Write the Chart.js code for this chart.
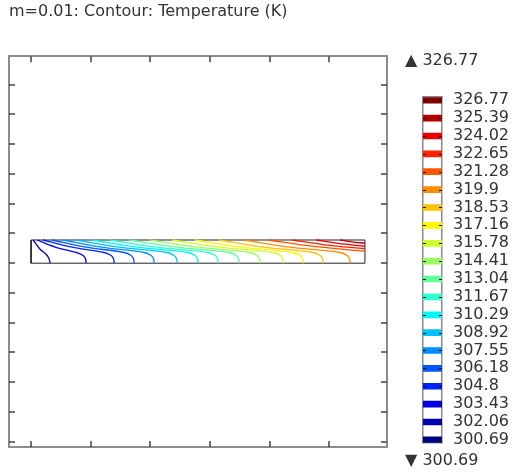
<!DOCTYPE html>
<html>
<head>
<meta charset="utf-8">
<title>m=0.01: Contour: Temperature (K)</title>
<script src="https://cdn.jsdelivr.net/npm/chart.js"></script>
<style>
  html, body { margin: 0; padding: 0; background: #fff; }
  #wrap { position: relative; width: 515px; height: 472px; }
  #plot { position: absolute; left: 0; top: 0; }
  #bar { position: absolute; left: 400px; top: 0; }
</style>
</head>
<body>
<div id="wrap">
  <canvas id="plot" width="400" height="472"></canvas>
  <canvas id="bar" width="115" height="472"></canvas>
</div>
<script>
// contour levels (K), low to high, and their legend labels
var levels = [300.69, 302.06, 303.43, 304.8, 306.18, 307.55, 308.92, 310.29, 311.67, 313.04,
              314.41, 315.78, 317.16, 318.53, 319.9, 321.28, 322.65, 324.02, 325.39, 326.77];
var levelLabels = ['300.69', '302.06', '303.43', '304.8', '306.18', '307.55', '308.92', '310.29', '311.67', '313.04',
                   '314.41', '315.78', '317.16', '318.53', '319.9', '321.28', '322.65', '324.02', '325.39', '326.77'];
var levelColors = ['#000080', '#0000b5', '#0000eb', '#0022ff', '#0057ff', '#008dff', '#00c2ff', '#00f8ff', '#2fffd0', '#65ff9a',
                   '#9aff65', '#d0ff2f', '#fff800', '#ffc200', '#ff8d00', '#ff5700', '#ff2200', '#eb0000', '#b50000', '#800000'];
var minLabel = '\u25B2 326.77';
var maxLabel = '\u25BC 300.69';

// contour lines, one per inner level (302.06 ... 325.39)
var contourX = [
  [0.034, 0.151, 0.252, 0.302, 0.319],
  [0.101, 0.395, 0.755, 0.873, 0.915, 0.923],
  [0.201, 0.662, 1.225, 1.343, 1.385, 1.393],
  [0.352, 0.896, 1.560, 1.678, 1.720, 1.728],
  [0.537, 1.149, 1.896, 2.014, 2.056, 2.064],
  [0.755, 1.442, 2.282, 2.400, 2.442, 2.450],
  [1.023, 1.748, 2.634, 2.752, 2.794, 2.802],
  [1.326, 2.066, 2.970, 3.088, 3.130, 3.138],
  [1.644, 2.399, 3.322, 3.440, 3.482, 3.490],
  [1.997, 2.752, 3.674, 3.792, 3.834, 3.842],
  [2.366, 3.128, 4.060, 4.178, 4.220, 4.228],
  [2.752, 3.492, 4.396, 4.514, 4.556, 4.564],
  [3.154, 3.864, 4.731, 4.849, 4.891, 4.899],
  [3.574, 4.299, 5.184, 5.302, 5.344, 5.352],
  [3.977, 4.707, 5.6],
  [4.379, 4.928, 5.6],
  [4.782, 5.150, 5.6],
  [5.185, 5.372, 5.6]
];
var contourY = [
  [0.39, 0.235, 0.151, 0.076, 0],
  [0.39, 0.275, 0.18, 0.13, 0.07, 0],
  [0.39, 0.275, 0.18, 0.13, 0.07, 0],
  [0.39, 0.275, 0.18, 0.13, 0.07, 0],
  [0.39, 0.275, 0.18, 0.13, 0.07, 0],
  [0.39, 0.275, 0.18, 0.13, 0.07, 0],
  [0.39, 0.275, 0.18, 0.13, 0.07, 0],
  [0.39, 0.275, 0.18, 0.13, 0.07, 0],
  [0.39, 0.275, 0.18, 0.13, 0.07, 0],
  [0.39, 0.275, 0.18, 0.13, 0.07, 0],
  [0.39, 0.275, 0.18, 0.13, 0.07, 0],
  [0.39, 0.275, 0.18, 0.13, 0.07, 0],
  [0.39, 0.275, 0.18, 0.13, 0.07, 0],
  [0.39, 0.275, 0.18, 0.13, 0.07, 0],
  [0.39, 0.286, 0.201],
  [0.39, 0.309, 0.243],
  [0.39, 0.332, 0.285],
  [0.39, 0.36, 0.336]
];

// the domain outline
var boxX = [0, 5.6, 5.6, 0, 0];
var boxY = [0, 0, 0.39, 0.39, 0];

// axis tick positions (no labels drawn)
var xTicks = [0, 1, 2, 3, 4, 5];
var yTicks = [-3, -2.5, -2, -1.5, -1, -0.5, 0, 0.5, 1, 1.5, 2, 2.5, 3];

Chart.defaults.font.family = 'DejaVu Sans';
Chart.defaults.color = '#333';

function pts(xs, ys) {
  return xs.map(function(x, j) { return {x: x, y: ys[j]}; });
}

// ticks pointing into the frame on all four sides
var innerTicks = {
  id: 'innerTicks',
  afterDraw: function(chart) {
    var ctx = chart.ctx, a = chart.chartArea;
    var sx = chart.scales.x, sy = chart.scales.y;
    ctx.save();
    ctx.strokeStyle = '#444';
    ctx.lineWidth = 1.5;
    ctx.beginPath();
    xTicks.forEach(function(v) {
      var px = Math.round(sx.getPixelForValue(v));
      ctx.moveTo(px, a.bottom); ctx.lineTo(px, a.bottom - 6);
      ctx.moveTo(px, a.top); ctx.lineTo(px, a.top + 6);
    });
    yTicks.forEach(function(v) {
      var py = Math.round(sy.getPixelForValue(v));
      ctx.moveTo(a.left, py); ctx.lineTo(a.left + 6, py);
      ctx.moveTo(a.right, py); ctx.lineTo(a.right - 6, py);
    });
    ctx.stroke();
    ctx.restore();
  }
};

var frameAxis = function(pos, min, max) {
  return {
    type: 'linear', position: pos, min: min, max: max,
    ticks: {display: false},
    grid: {display: false, drawTicks: false},
    border: {display: true, color: '#8c8c8c', width: 2}
  };
};

var datasets = [];
for (var i = 0; i < contourX.length; i++) {
  datasets.push({
    data: pts(contourX[i], contourY[i]),
    showLine: true,
    borderColor: levelColors[i + 1],
    borderWidth: 1.3,
    pointRadius: 0,
    tension: 0.35
  });
}
datasets.push({
  data: pts(boxX, boxY),
  showLine: true,
  borderColor: '#222',
  borderWidth: 1,
  pointRadius: 0,
  tension: 0
});

new Chart(document.getElementById('plot'), {
  type: 'scatter',
  data: {datasets: datasets},
  options: {
    responsive: false,
    animation: false,
    events: [],
    layout: {padding: {left: 9, right: 13, top: 0, bottom: 25}},
    plugins: {
      legend: {display: false},
      tooltip: {enabled: false},
      title: {
        display: true,
        text: 'm=0.01: Contour: Temperature (K)',
        align: 'start',
        color: '#333',
        font: {size: 16, weight: 'normal'},
        padding: {top: 2, bottom: 35}
      }
    },
    scales: {
      x: frameAxis('bottom', -0.37, 5.97),
      x2: frameAxis('top', -0.37, 5.97),
      y: frameAxis('left', -3.09, 3.48),
      y2: frameAxis('right', -3.09, 3.48)
    }
  },
  plugins: [innerTicks]
});

// colour legend
var barTicks = {
  id: 'barTicks',
  afterDatasetsDraw: function(chart) {
    var ctx = chart.ctx, a = chart.chartArea, sy = chart.scales.y;
    ctx.save();
    ctx.strokeStyle = '#111';
    ctx.lineWidth = 1;
    ctx.beginPath();
    levels.forEach(function(v) {
      var py = Math.round(sy.getPixelForValue(v)) + 0.5;
      ctx.moveTo(a.left, py); ctx.lineTo(a.left + 3, py);
      ctx.moveTo(a.right - 3, py); ctx.lineTo(a.right, py);
    });
    ctx.stroke();
    ctx.restore();
  }
};

var barBorder = {display: true, color: '#8a8a8a', width: 1.5};
var noGrid = {display: false, drawTicks: false};

new Chart(document.getElementById('bar'), {
  type: 'bar',
  data: {
    datasets: [{
      data: levels.map(function(v) { return {x: [0, 1], y: v}; }),
      backgroundColor: levelColors,
      borderWidth: 0,
      barThickness: 6
    }]
  },
  options: {
    indexAxis: 'y',
    responsive: false,
    animation: false,
    events: [],
    layout: {padding: {left: 5, right: 0, top: 0, bottom: 0}},
    plugins: {
      legend: {display: false},
      tooltip: {enabled: false},
      title: {
        display: true, text: minLabel, align: 'start', color: '#333',
        font: {size: 16, weight: 'normal'},
        padding: {top: 51, bottom: 27}
      },
      subtitle: {
        display: true, text: maxLabel, align: 'start', position: 'bottom', color: '#333',
        font: {size: 16, weight: 'normal'},
        padding: {top: 8, bottom: 2}
      }
    },
    scales: {
      x: {type: 'linear', position: 'bottom', min: 0, max: 1,
          ticks: {display: false}, grid: noGrid, border: barBorder},
      x2: {type: 'linear', position: 'top', min: 0, max: 1,
           ticks: {display: false}, grid: noGrid, border: barBorder},
      y: {
        type: 'linear', position: 'right', min: 300.46, max: 327.0,
        offset: false,
        afterBuildTicks: function(s) { s.ticks = levels.map(function(v) { return {value: v}; }); },
        afterFit: function(s) { s.width = 73; },
        ticks: {
          autoSkip: false, padding: 11, color: '#333',
          font: {size: 16},
          callback: function(v, idx) { return levelLabels[idx]; }
        },
        grid: noGrid,
        border: barBorder
      },
      y2: {
        type: 'linear', position: 'left', min: 0, max: 1,
        afterFit: function(s) { s.width = 18; },
        ticks: {display: false}, grid: noGrid, border: barBorder
      }
    }
  },
  plugins: [barTicks]
});
</script>
</body>
</html>
